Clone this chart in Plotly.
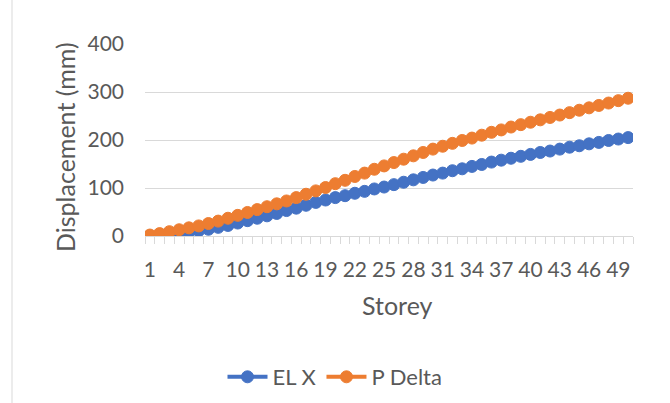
import plotly.graph_objects as go

# Storey numbers and lateral displacement (mm) for the two analyses
storeys = list(range(1, 51))
el_x = [0, 1, 3, 5, 8, 11, 14, 18, 22, 27,
        32, 37, 42, 47, 53, 58, 64, 70, 75, 80,
        84, 89, 93, 98, 102, 107, 112, 117, 122, 127,
        131, 136, 140, 145, 149, 154, 158, 162, 166, 170,
        174, 177, 181, 185, 188, 192, 195, 199, 202, 205]
p_delta = [2, 5, 9, 13, 17, 21, 26, 31, 37, 43,
           49, 55, 61, 67, 73, 80, 87, 94, 101, 109,
           116, 124, 131, 139, 146, 153, 160, 167, 174, 181,
           187, 193, 199, 204, 210, 216, 221, 227, 232, 237,
           242, 247, 252, 257, 262, 267, 272, 277, 282, 287]
x_tick_labels = [str(s) for s in storeys[::3]]
y_ticks = [0, 100, 200, 300, 400]

FONT = "Lato, 'Liberation Sans', sans-serif"
TEXT = "#595959"
GRID = "#d9d9d9"

fig = go.Figure()
for name, vals, color in [("EL X", el_x, "#4472C4"), ("P Delta", p_delta, "#ED7D31")]:
    fig.add_trace(go.Scatter(
        x=storeys, y=vals, name=name, mode="lines+markers",
        line=dict(color=color, width=4),
        marker=dict(symbol="circle", size=12, color=color,
                    line=dict(color=color, width=1)),
    ))

fig.update_layout(
    width=670, height=403,
    margin=dict(l=145, r=37, t=44, b=167),
    paper_bgcolor="white", plot_bgcolor="white",
    font=dict(family=FONT, color=TEXT, size=20),
    showlegend=True,
    legend=dict(orientation="h", x=0.5, xref="container", xanchor="center",
                y=(403 - 377) / 403, yref="container", yanchor="middle",
                font=dict(size=22, color=TEXT), itemwidth=40,
                bgcolor="rgba(0,0,0,0)"),
)

fig.update_xaxes(
    range=[0.5, 50.5],
    tickmode="array", tickvals=storeys[::3], ticktext=x_tick_labels,
    ticks="outside", ticklen=7, tickcolor="rgba(0,0,0,0)",
    ticklabelstandoff=8,
    tickfont=dict(size=21, color=TEXT, family=FONT),
    showline=True, linecolor=GRID, linewidth=1,
    showgrid=False, zeroline=False,
    minor=dict(tick0=0.5, dtick=1, ticks="outside", ticklen=7,
               tickcolor=GRID, tickwidth=1, showgrid=False),
)
fig.update_yaxes(
    range=[0, 400], tickmode="array", tickvals=y_ticks,
    ticklabelstandoff=20,
    tickfont=dict(size=21, color=TEXT, family=FONT),
    showgrid=True, gridcolor=GRID, gridwidth=1,
    zeroline=False, showline=False,
)

# Axis titles
fig.add_annotation(text="Storey", xref="paper", yref="paper",
                   x=(397 - 145) / 488, y=-(305 - 236) / 192,
                   showarrow=False, xanchor="center", yanchor="middle",
                   font=dict(size=25, color=TEXT, family=FONT))
fig.add_annotation(text="Displacement (mm)", xref="paper", yref="paper",
                   x=(65 - 145) / 488, y=(236 - 147) / 192, textangle=-90,
                   showarrow=False, xanchor="center", yanchor="middle",
                   font=dict(size=25, color=TEXT, family=FONT))

# Chart-area border on the left edge
fig.add_shape(type="line", xref="paper", yref="paper",
              x0=(12 - 145) / 488, x1=(12 - 145) / 488,
              y0=(236 - 403) / 192, y1=(236 + 5) / 192,
              line=dict(color=GRID, width=1))

fig.write_html("out.html")
